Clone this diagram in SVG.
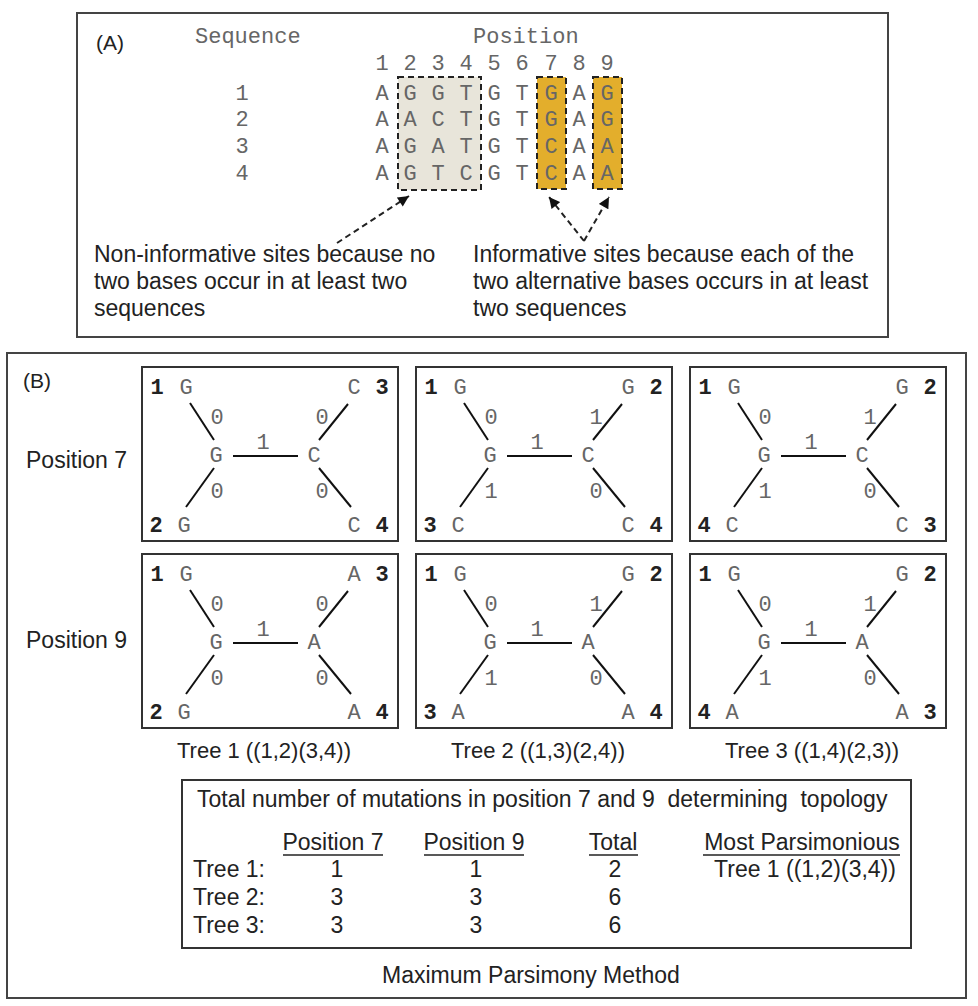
<svg xmlns="http://www.w3.org/2000/svg" width="978" height="1006" viewBox="0 0 978 1006">
<style>
.panel{fill:#fff;stroke:#444;stroke-width:2}
.tbox{fill:#fff;stroke:#333;stroke-width:2}
.sans{font-family:"Liberation Sans",Arial,sans-serif;font-size:23px;fill:#222}
.cap{font-family:"Liberation Sans",Arial,sans-serif;font-size:22px;fill:#222;text-anchor:middle}
.mono{font-family:"Liberation Mono","Courier New",monospace;font-size:22px;fill:#666}
.mc{font-family:"Liberation Mono","Courier New",monospace;font-size:22px;fill:#666;text-anchor:middle}
.num{font-family:"Liberation Mono","Courier New",monospace;font-size:22px;font-weight:bold;fill:#222;text-anchor:middle}
.br{stroke:#111;stroke-width:2;fill:none}
.dash{stroke:#222;stroke-width:2;stroke-dasharray:6,4;fill:none}
.mid{text-anchor:middle}
.ul{stroke:#222;stroke-width:1.5}
</style>
<defs>
<marker id="ah" viewBox="0 0 10 10" refX="10" refY="5" markerWidth="12" markerHeight="11" markerUnits="userSpaceOnUse" orient="auto">
<path d="M0,0 L10,5 L0,10 z" fill="#111"/>
</marker>
</defs>
<rect width="978" height="1006" fill="#fff"/>

<g id="panelA">
<rect class="panel" x="77" y="13" width="811" height="324"/>
<text class="sans" x="96" y="50" style="font-size:21px">(A)</text>
<text class="mono" x="195" y="43">Sequence</text>
<text class="mono" x="473" y="43">Position</text>
<rect x="398" y="77" width="83" height="113" fill="#e8e5da" stroke="#222" stroke-width="2" stroke-dasharray="6,4"/>
<rect x="537" y="77" width="29" height="112" fill="#e3ae2c" stroke="#222" stroke-width="2" stroke-dasharray="6,4"/>
<rect x="593" y="77" width="29" height="112" fill="#e3ae2c" stroke="#222" stroke-width="2" stroke-dasharray="6,4"/>
<g class="mc">
<text x="382" y="70">1</text><text x="410" y="70">2</text><text x="438" y="70">3</text><text x="466" y="70">4</text><text x="494" y="70">5</text><text x="522" y="70">6</text><text x="551" y="70">7</text><text x="579" y="70">8</text><text x="607" y="70">9</text>
<text x="242" y="100">1</text><text x="242" y="126">2</text><text x="242" y="153">3</text><text x="242" y="180">4</text>
<text x="382" y="100">A</text><text x="410" y="100">G</text><text x="438" y="100">G</text><text x="466" y="100">T</text><text x="494" y="100">G</text><text x="522" y="100">T</text><text x="551" y="100">G</text><text x="579" y="100">A</text><text x="607" y="100">G</text>
<text x="382" y="126">A</text><text x="410" y="126">A</text><text x="438" y="126">C</text><text x="466" y="126">T</text><text x="494" y="126">G</text><text x="522" y="126">T</text><text x="551" y="126">G</text><text x="579" y="126">A</text><text x="607" y="126">G</text>
<text x="382" y="153">A</text><text x="410" y="153">G</text><text x="438" y="153">A</text><text x="466" y="153">T</text><text x="494" y="153">G</text><text x="522" y="153">T</text><text x="551" y="153">C</text><text x="579" y="153">A</text><text x="607" y="153">A</text>
<text x="382" y="180">A</text><text x="410" y="180">G</text><text x="438" y="180">T</text><text x="466" y="180">C</text><text x="494" y="180">G</text><text x="522" y="180">T</text><text x="551" y="180">C</text><text x="579" y="180">A</text><text x="607" y="180">A</text>
</g>
<text class="sans" x="94" y="262">Non-informative sites because no</text>
<text class="sans" x="94" y="289">two bases occur in at least two</text>
<text class="sans" x="94" y="316">sequences</text>
<text class="sans" x="473" y="262">Informative sites because each of the</text>
<text class="sans" x="473" y="289">two alternative bases occurs in at least</text>
<text class="sans" x="473" y="316">two sequences</text>
</g>

<g id="connectors">
<line class="dash" x1="337" y1="243" x2="409" y2="196" marker-end="url(#ah)"/>
<line class="dash" x1="584" y1="241" x2="549" y2="197" marker-end="url(#ah)"/>
<line class="dash" x1="584" y1="241" x2="609" y2="197" marker-end="url(#ah)"/>
</g>

<g id="panelB">
<rect class="panel" x="7" y="353" width="959" height="645"/>
<text class="sans" x="23" y="388" style="font-size:21px">(B)</text>
<text class="sans" x="26" y="468">Position 7</text>
<text class="sans" x="26" y="648">Position 9</text>
</g>

<g id="tree1_pos7" transform="translate(142,367)">
<rect class="tbox" width="256" height="174"/>
<line class="br" x1="48" y1="36" x2="72" y2="73"/><line class="br" x1="206" y1="37" x2="177" y2="73"/>
<line class="br" x1="72" y1="101" x2="44" y2="140"/><line class="br" x1="177" y1="101" x2="209" y2="140"/>
<line class="br" x1="91" y1="89" x2="156" y2="89"/>
<text class="num" x="15" y="27">1</text><text class="mc" x="44" y="27">G</text><text class="mc" x="212" y="27">C</text><text class="num" x="240" y="27">3</text>
<text class="num" x="14" y="165">2</text><text class="mc" x="42" y="165">G</text><text class="mc" x="212" y="165">C</text><text class="num" x="240" y="165">4</text>
<text class="mc" x="74" y="95">G</text><text class="mc" x="172" y="95">C</text>
<text class="mc" x="75" y="57">0</text><text class="mc" x="180" y="57">0</text><text class="mc" x="75" y="131">0</text><text class="mc" x="180" y="131">0</text><text class="mc" x="121" y="82">1</text>
</g>

<g id="tree2_pos7" transform="translate(416,367)">
<rect class="tbox" width="256" height="174"/>
<line class="br" x1="48" y1="36" x2="72" y2="73"/><line class="br" x1="206" y1="37" x2="177" y2="73"/>
<line class="br" x1="72" y1="101" x2="44" y2="140"/><line class="br" x1="177" y1="101" x2="209" y2="140"/>
<line class="br" x1="91" y1="89" x2="156" y2="89"/>
<text class="num" x="15" y="27">1</text><text class="mc" x="44" y="27">G</text><text class="mc" x="212" y="27">G</text><text class="num" x="240" y="27">2</text>
<text class="num" x="14" y="165">3</text><text class="mc" x="42" y="165">C</text><text class="mc" x="212" y="165">C</text><text class="num" x="240" y="165">4</text>
<text class="mc" x="74" y="95">G</text><text class="mc" x="172" y="95">C</text>
<text class="mc" x="75" y="57">0</text><text class="mc" x="180" y="57">1</text><text class="mc" x="75" y="131">1</text><text class="mc" x="180" y="131">0</text><text class="mc" x="121" y="82">1</text>
</g>

<g id="tree3_pos7" transform="translate(690,367)">
<rect class="tbox" width="256" height="174"/>
<line class="br" x1="48" y1="36" x2="72" y2="73"/><line class="br" x1="206" y1="37" x2="177" y2="73"/>
<line class="br" x1="72" y1="101" x2="44" y2="140"/><line class="br" x1="177" y1="101" x2="209" y2="140"/>
<line class="br" x1="91" y1="89" x2="156" y2="89"/>
<text class="num" x="15" y="27">1</text><text class="mc" x="44" y="27">G</text><text class="mc" x="212" y="27">G</text><text class="num" x="240" y="27">2</text>
<text class="num" x="14" y="165">4</text><text class="mc" x="42" y="165">C</text><text class="mc" x="212" y="165">C</text><text class="num" x="240" y="165">3</text>
<text class="mc" x="74" y="95">G</text><text class="mc" x="172" y="95">C</text>
<text class="mc" x="75" y="57">0</text><text class="mc" x="180" y="57">1</text><text class="mc" x="75" y="131">1</text><text class="mc" x="180" y="131">0</text><text class="mc" x="121" y="82">1</text>
</g>

<g id="tree1_pos9" transform="translate(142,554)">
<rect class="tbox" width="256" height="174"/>
<line class="br" x1="48" y1="36" x2="72" y2="73"/><line class="br" x1="206" y1="37" x2="177" y2="73"/>
<line class="br" x1="72" y1="101" x2="44" y2="140"/><line class="br" x1="177" y1="101" x2="209" y2="140"/>
<line class="br" x1="91" y1="89" x2="156" y2="89"/>
<text class="num" x="15" y="27">1</text><text class="mc" x="44" y="27">G</text><text class="mc" x="212" y="27">A</text><text class="num" x="240" y="27">3</text>
<text class="num" x="14" y="165">2</text><text class="mc" x="42" y="165">G</text><text class="mc" x="212" y="165">A</text><text class="num" x="240" y="165">4</text>
<text class="mc" x="74" y="95">G</text><text class="mc" x="172" y="95">A</text>
<text class="mc" x="75" y="57">0</text><text class="mc" x="180" y="57">0</text><text class="mc" x="75" y="131">0</text><text class="mc" x="180" y="131">0</text><text class="mc" x="121" y="82">1</text>
</g>

<g id="tree2_pos9" transform="translate(416,554)">
<rect class="tbox" width="256" height="174"/>
<line class="br" x1="48" y1="36" x2="72" y2="73"/><line class="br" x1="206" y1="37" x2="177" y2="73"/>
<line class="br" x1="72" y1="101" x2="44" y2="140"/><line class="br" x1="177" y1="101" x2="209" y2="140"/>
<line class="br" x1="91" y1="89" x2="156" y2="89"/>
<text class="num" x="15" y="27">1</text><text class="mc" x="44" y="27">G</text><text class="mc" x="212" y="27">G</text><text class="num" x="240" y="27">2</text>
<text class="num" x="14" y="165">3</text><text class="mc" x="42" y="165">A</text><text class="mc" x="212" y="165">A</text><text class="num" x="240" y="165">4</text>
<text class="mc" x="74" y="95">G</text><text class="mc" x="172" y="95">A</text>
<text class="mc" x="75" y="57">0</text><text class="mc" x="180" y="57">1</text><text class="mc" x="75" y="131">1</text><text class="mc" x="180" y="131">0</text><text class="mc" x="121" y="82">1</text>
</g>

<g id="tree3_pos9" transform="translate(690,554)">
<rect class="tbox" width="256" height="174"/>
<line class="br" x1="48" y1="36" x2="72" y2="73"/><line class="br" x1="206" y1="37" x2="177" y2="73"/>
<line class="br" x1="72" y1="101" x2="44" y2="140"/><line class="br" x1="177" y1="101" x2="209" y2="140"/>
<line class="br" x1="91" y1="89" x2="156" y2="89"/>
<text class="num" x="15" y="27">1</text><text class="mc" x="44" y="27">G</text><text class="mc" x="212" y="27">G</text><text class="num" x="240" y="27">2</text>
<text class="num" x="14" y="165">4</text><text class="mc" x="42" y="165">A</text><text class="mc" x="212" y="165">A</text><text class="num" x="240" y="165">3</text>
<text class="mc" x="74" y="95">G</text><text class="mc" x="172" y="95">A</text>
<text class="mc" x="75" y="57">0</text><text class="mc" x="180" y="57">1</text><text class="mc" x="75" y="131">1</text><text class="mc" x="180" y="131">0</text><text class="mc" x="121" y="82">1</text>
</g>

<g id="captions">
<text class="cap" x="264" y="758">Tree 1 ((1,2)(3,4))</text>
<text class="cap" x="538" y="758">Tree 2 ((1,3)(2,4))</text>
<text class="cap" x="812" y="758">Tree 3 ((1,4)(2,3))</text>
</g>

<g id="table">
<rect class="tbox" x="182" y="780" width="729" height="168"/>
<text class="sans" x="197" y="807" style="white-space:pre">Total number of mutations in position 7 and 9  determining  topology</text>
<g class="sans mid">
<text x="333" y="850">Position 7</text>
<text x="474" y="850">Position 9</text>
<text x="613" y="850">Total</text>
<text x="802" y="850">Most Parsimonious</text>
<text x="337" y="877">1</text><text x="476" y="877">1</text><text x="615" y="877">2</text><text x="805" y="877">Tree 1 ((1,2)(3,4))</text>
<text x="337" y="905">3</text><text x="476" y="905">3</text><text x="615" y="905">6</text>
<text x="337" y="933">3</text><text x="476" y="933">3</text><text x="615" y="933">6</text>
</g>
<line class="ul" x1="283" y1="855" x2="383" y2="855"/>
<line class="ul" x1="424" y1="855" x2="524" y2="855"/>
<line class="ul" x1="589" y1="855" x2="638" y2="855"/>
<line class="ul" x1="703" y1="855" x2="900" y2="855"/>
<text class="sans" x="193" y="877">Tree 1:</text>
<text class="sans" x="193" y="905">Tree 2:</text>
<text class="sans" x="193" y="933">Tree 3:</text>
</g>

<text class="sans" x="382" y="983">Maximum Parsimony Method</text>
</svg>
